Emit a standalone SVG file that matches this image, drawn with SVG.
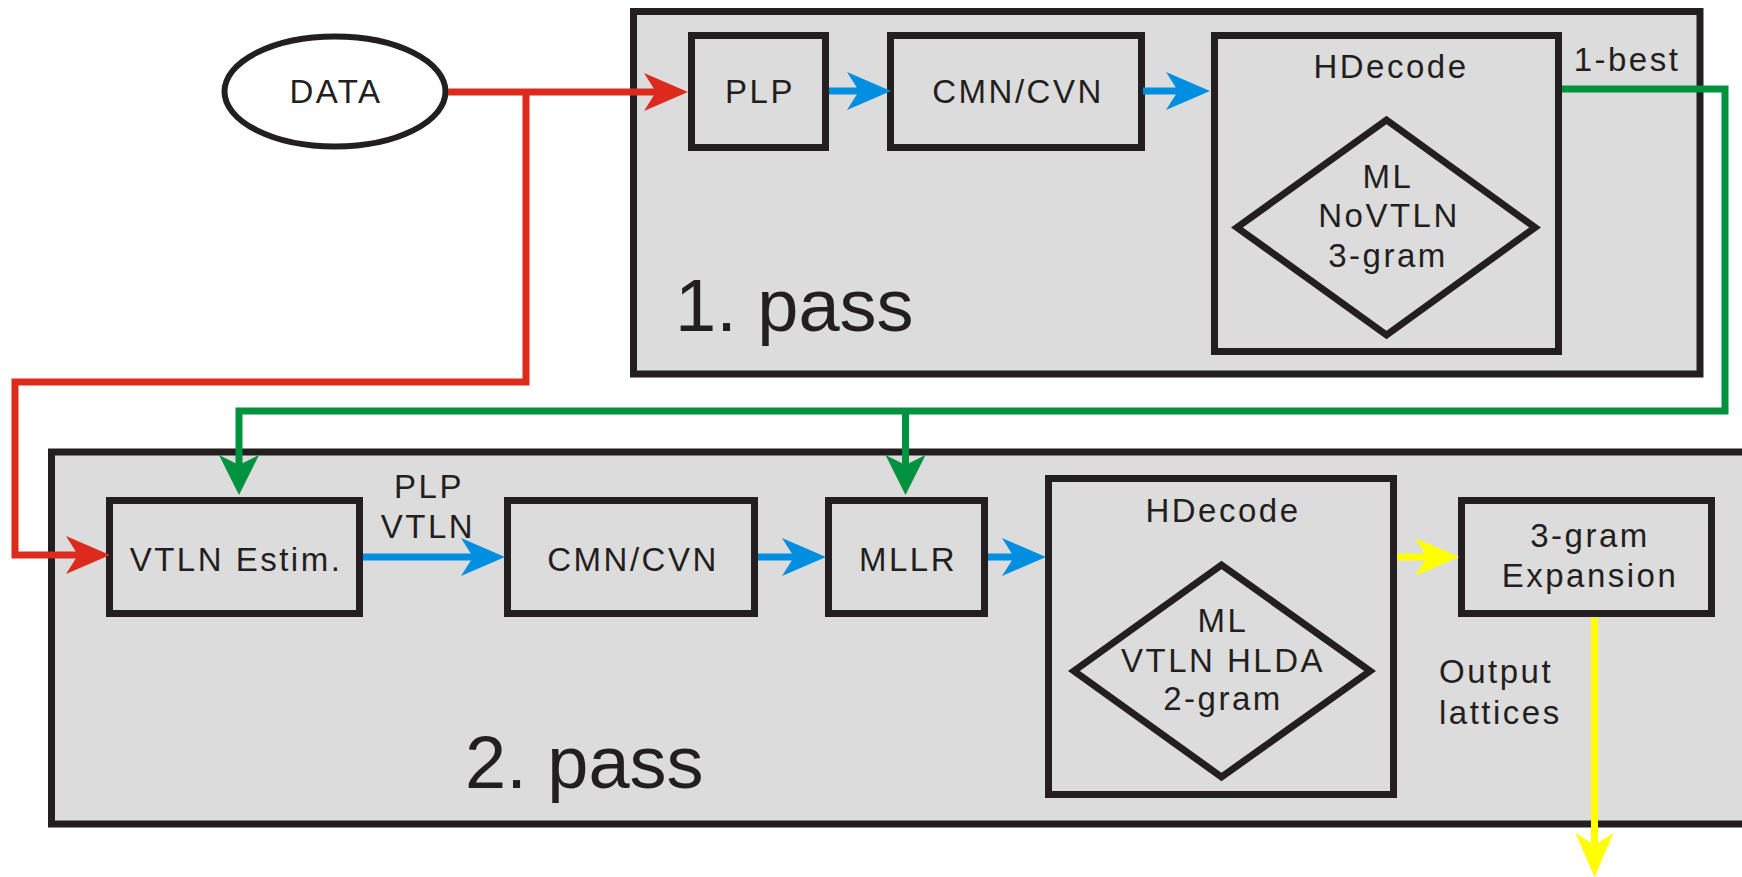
<svg xmlns="http://www.w3.org/2000/svg" width="1742" height="877" viewBox="0 0 1742 877">
<style>
.pass{fill:#dcdcdc;stroke:#231f20;stroke-width:7}
.box{fill:#dcdcdc;stroke:#231f20;stroke-width:7}
.dia{fill:none;stroke:#231f20;stroke-width:7;stroke-linejoin:miter}
.lbl{font-family:"Liberation Sans",Arial,sans-serif;font-size:33px;fill:#231f20;letter-spacing:2.5px;text-anchor:middle}
.big{font-family:"Liberation Sans",Arial,sans-serif;font-size:74px;fill:#231f20}
.c{fill:none;stroke-width:7}
.red{stroke:#dc2b1c}
.blue{stroke:#008fe0}
.green{stroke:#00923f}
.yellow{stroke:#ffff00}
</style>
<defs>
<marker id="ar" markerUnits="userSpaceOnUse" markerWidth="60" markerHeight="60" refX="12" refY="0" orient="auto" overflow="visible"><path d="M0,-19 L44,0 L0,19 L12,0 Z" fill="#dc2b1c"/></marker>
<marker id="ab" markerUnits="userSpaceOnUse" markerWidth="60" markerHeight="60" refX="12" refY="0" orient="auto" overflow="visible"><path d="M0,-19 L44,0 L0,19 L12,0 Z" fill="#008fe0"/></marker>
<marker id="ag" markerUnits="userSpaceOnUse" markerWidth="60" markerHeight="60" refX="12" refY="0" orient="auto" overflow="visible"><path d="M0,-20 L40,0 L0,20 L10,0 Z" fill="#00923f"/></marker>
<marker id="ay" markerUnits="userSpaceOnUse" markerWidth="60" markerHeight="60" refX="12" refY="0" orient="auto" overflow="visible"><path d="M0,-19 L44,0 L0,19 L12,0 Z" fill="#ffff00"/></marker>
</defs>

<g id="pass1">
<rect class="pass" x="633.5" y="11.5" width="1066.5" height="362.5"/>
<text class="big" x="675" y="331">1. pass</text>
</g>
<g id="pass2">
<rect class="pass" x="51.5" y="452" width="1730" height="372"/>
<text class="big" x="465" y="788">2. pass</text>
</g>

<g id="data">
<ellipse cx="335" cy="91.5" rx="110.5" ry="55" fill="#ffffff" stroke="#231f20" stroke-width="6"/>
<text class="lbl" x="336" y="103">DATA</text>
</g>

<g id="plp">
<rect class="box" x="691.5" y="35.5" width="134" height="112"/>
<text class="lbl" x="760" y="103">PLP</text>
</g>
<g id="cmn1">
<rect class="box" x="890.5" y="35.5" width="251" height="112"/>
<text class="lbl" x="1018" y="103">CMN/CVN</text>
</g>
<g id="hdecode1">
<rect class="box" x="1214.5" y="35.5" width="344" height="316"/>
<text class="lbl" x="1391" y="78">HDecode</text>
<polygon class="dia" points="1386.5,120 1535,227.5 1386.5,335 1237,227.5"/>
<text class="lbl" x="1388" y="188">ML</text>
<text class="lbl" x="1389" y="227">NoVTLN</text>
<text class="lbl" x="1388" y="267">3-gram</text>
</g>

<g id="vtlnestim">
<rect class="box" x="109.5" y="500.5" width="250" height="113"/>
<text class="lbl" x="236" y="571">VTLN Estim.</text>
</g>
<g id="cmn2">
<rect class="box" x="507.5" y="500.5" width="247" height="113"/>
<text class="lbl" x="633" y="571">CMN/CVN</text>
</g>
<g id="mllr">
<rect class="box" x="828.5" y="500.5" width="156" height="113"/>
<text class="lbl" x="908" y="571">MLLR</text>
</g>
<g id="hdecode2">
<rect class="box" x="1048.5" y="478.5" width="345" height="316"/>
<text class="lbl" x="1223" y="522">HDecode</text>
<polygon class="dia" points="1221.5,565 1370,671 1221.5,777 1074,671"/>
<text class="lbl" x="1223" y="632">ML</text>
<text class="lbl" x="1223" y="672">VTLN HLDA</text>
<text class="lbl" x="1223" y="710">2-gram</text>
</g>
<g id="expansion">
<rect class="box" x="1461.5" y="500.5" width="250" height="113"/>
<text class="lbl" x="1590" y="547">3-gram</text>
<text class="lbl" x="1590" y="587">Expansion</text>
</g>

<g id="connectors">
<path class="c red" d="M448,92 H656" marker-end="url(#ar)"/>
<path class="c red" d="M526,92 V382 H15 V555 H78" marker-end="url(#ar)"/>
<path class="c blue" d="M829,91 H859" marker-end="url(#ab)"/>
<path class="c blue" d="M1143,91 H1178" marker-end="url(#ab)"/>
<path class="c blue" d="M363,557 H473" marker-end="url(#ab)"/>
<path class="c blue" d="M758,557 H794" marker-end="url(#ab)"/>
<path class="c blue" d="M988,557 H1014" marker-end="url(#ab)"/>
<path class="c green" d="M1562,89 H1725 V411 H239 V467" marker-end="url(#ag)"/>
<path class="c green" d="M905.5,411 V467" marker-end="url(#ag)"/>
<path class="c yellow" d="M1397,557 H1427" marker-end="url(#ay)"/>
<path class="c yellow" d="M1594.5,617 V845" marker-end="url(#ay)"/>
<text class="lbl" x="1627" y="71">1-best</text>
<text class="lbl" x="429" y="498">PLP</text>
<text class="lbl" x="428" y="538">VTLN</text>
<text class="lbl" x="1439" y="683" style="text-anchor:start">Output</text>
<text class="lbl" x="1439" y="724" style="text-anchor:start">lattices</text>
</g>
</svg>
